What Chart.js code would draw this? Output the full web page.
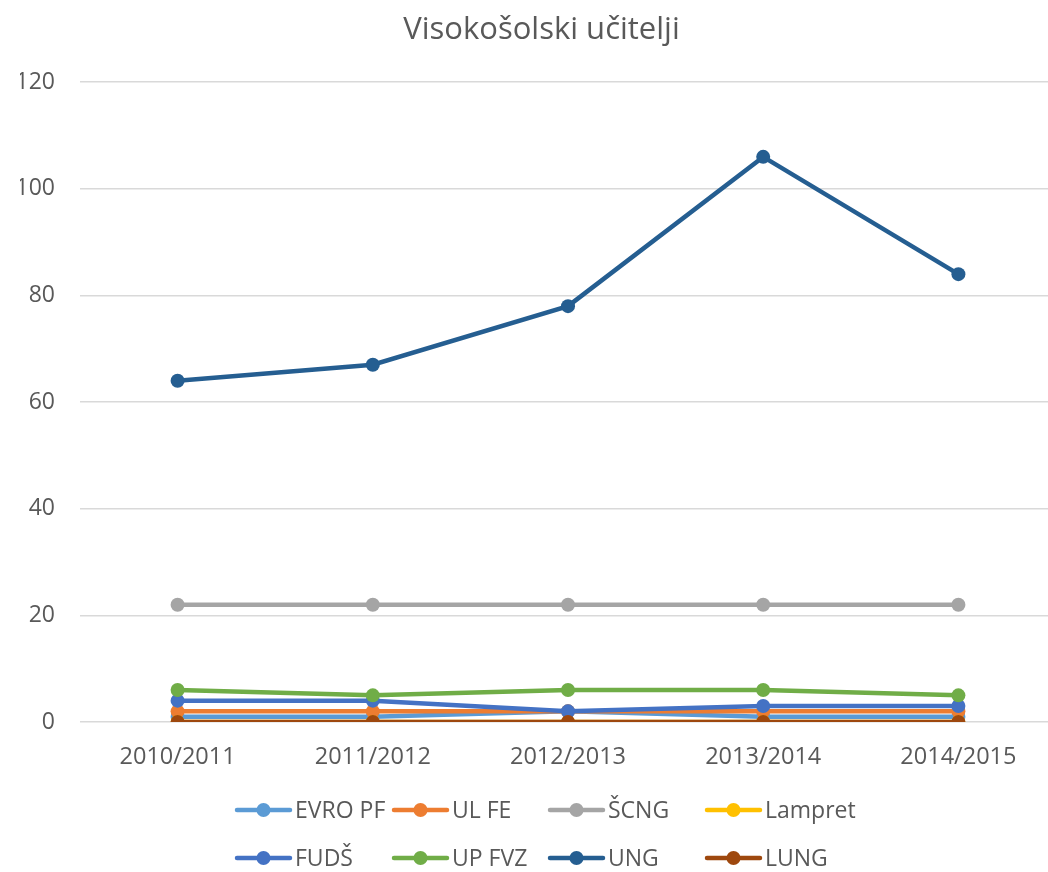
<!DOCTYPE html>
<html>
<head>
<meta charset="utf-8">
<script src="https://cdn.jsdelivr.net/npm/chart.js@4/dist/chart.umd.min.js"></script>
<style>
html,body{margin:0;padding:0;background:#fff;overflow:hidden;}
#wrap{width:1064px;height:872px;}
</style>
</head>
<body>
<div id="wrap"><canvas id="c" width="1063" height="872"></canvas></div>
<script>
const categories = ['2010/2011','2011/2012','2012/2013','2013/2014','2014/2015'];
const seriesNames = ['EVRO PF','UL FE','ŠCNG','Lampret','FUDŠ','UP FVZ','UNG','LUNG'];
const evroPF  = [1, 1, 2, 1, 1];
const ulFE    = [2, 2, 2, 2, 2];
const scng    = [22, 22, 22, 22, 22];
const lampret = [0, 0, 0, 0, 0];
const fuds    = [4, 4, 2, 3, 3];
const upFVZ   = [6, 5, 6, 6, 5];
const ung     = [64, 67, 78, 106, 84];
const lung    = [0, 0, 0, 0, 0];
const yTicks  = [0, 20, 40, 60, 80, 100, 120];

const seriesValues = [evroPF, ulFE, scng, lampret, fuds, upFVZ, ung, lung];
const colors = ['#5B9BD5','#ED7D31','#A5A5A5','#FFC000','#4472C4','#70AD47','#255E91','#9E480E'];
const FONT = "'Open Sans', sans-serif";
const TXT = '#595959';

const datasets = seriesNames.map((name, i) => ({
  label: name,
  data: seriesValues[i],
  borderColor: colors[i],
  backgroundColor: colors[i],
  pointBackgroundColor: colors[i],
  pointBorderColor: colors[i],
  borderWidth: 4.5,
  pointRadius: 7,
  pointBorderWidth: 0,
  pointHoverRadius: 7,
  tension: 0,
  order: seriesNames.length - i
}));

const legendPlugin = {
  id: 'gridLegend',
  afterDraw(chart) {
    const ctx = chart.ctx;
    const cols = [235, 392, 548, 705];
    const rows = [810, 858];
    ctx.save();
    ctx.font = '23px ' + FONT;
    ctx.textBaseline = 'middle';
    ctx.textAlign = 'left';
    seriesNames.forEach((name, i) => {
      const x = cols[i % 4], y = rows[Math.floor(i / 4)];
      ctx.strokeStyle = colors[i];
      ctx.lineWidth = 4.5;
      ctx.lineCap = 'round';
      ctx.beginPath();
      ctx.moveTo(x + 2, y);
      ctx.lineTo(x + 55, y);
      ctx.stroke();
      ctx.fillStyle = colors[i];
      ctx.beginPath();
      ctx.arc(x + 28.5, y, 7, 0, Math.PI * 2);
      ctx.fill();
      ctx.fillStyle = TXT;
      ctx.fillText(name, x + 60, y + 1);
    });
    ctx.restore();
  }
};

new Chart(document.getElementById('c'), {
  type: 'line',
  data: { labels: categories, datasets },
  plugins: [legendPlugin],
  options: {
    responsive: false,
    animation: false,
    layout: { padding: { left: 20, right: 0, top: 0, bottom: 0 } },
    plugins: {
      legend: { display: false },
      tooltip: { enabled: false },
      title: {
        display: true,
        text: 'Visokošolski učitelji',
        color: TXT,
        font: { family: FONT, size: 31, weight: 'normal' },
        padding: { top: 12, bottom: 33 }
      }
    },
    scales: {
      x: {
        offset: true,
        grid: { display: false, drawTicks: false },
        border: { display: false },
        ticks: { color: TXT, font: { family: FONT, size: 23.5 }, padding: 21, maxRotation: 0 },
        afterFit: (s) => { s.height = 150; }
      },
      y: {
        min: 0, max: 120,
        afterBuildTicks: (s) => { s.ticks = yTicks.map(v => ({ value: v })); },
        grid: { color: '#D9D9D9', lineWidth: 1.5, drawTicks: false },
        border: { display: false },
        ticks: { color: TXT, font: { family: FONT, size: 23 }, padding: 25 },
        afterFit: (s) => { s.width = 60; }
      }
    }
  }
});
</script>
</body>
</html>
